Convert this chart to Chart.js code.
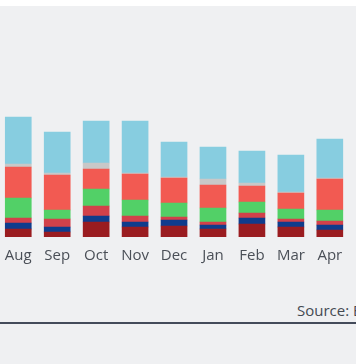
<!DOCTYPE html>
<html>
<head>
<meta charset="utf-8">
<script src="https://cdn.jsdelivr.net/npm/chart.js@4.4.0/dist/chart.umd.min.js"></script>
<style>
  html, body { margin: 0; padding: 0; width: 356px; height: 364px; overflow: hidden; background: #eff0f2; font-family: "Open Sans", sans-serif; }
  #top { position: absolute; left: 0; top: 0; width: 356px; height: 6px; background: #ffffff; }
  #wrap { position: absolute; left: -5px; top: 0; width: 357px; height: 277px; }
  #source { position: absolute; left: 297px; top: 300px; font-size: 15px; color: #444a52; white-space: nowrap; }
  #rule { position: absolute; left: 0; top: 322px; width: 356px; height: 2px; background: #444b5a; }
</style>
</head>
<body>
<div id="top"></div>
<div id="wrap"><canvas id="c"></canvas></div>
<div id="source">Source: EIA</div>
<div id="rule"></div>
<script>
const months = ["Aug", "Sep", "Oct", "Nov", "Dec", "Jan", "Feb", "Mar", "Apr"];
const seriesDarkRed = [8, 5, 15, 10, 11, 8, 13, 10, 7];
const seriesBlue    = [6, 5, 6, 5, 6, 4, 6, 5, 5];
const seriesCrimson = [5, 8, 10, 6, 3, 3, 5, 3, 4];
const seriesGreen   = [20, 9, 17, 16, 14, 14, 11, 10, 11];
const seriesCoral   = [31, 35, 20, 26, 25, 23, 16, 16, 31];
const seriesGray    = [3, 2, 6, 1, 1, 6, 3, 1, 1];
const seriesLight   = [47, 41, 42, 52, 35, 32, 32, 37, 39];

const mk = (label, data, color) => ({ label, data, backgroundColor: color, borderWidth: 0, barThickness: 26 });

new Chart(document.getElementById('c'), {
  type: 'bar',
  data: {
    labels: months,
    datasets: [
      mk('Series 1', seriesDarkRed, '#9a1c20'),
      mk('Series 2', seriesBlue, '#0f3c8c'),
      mk('Series 3', seriesCrimson, '#d2414a'),
      mk('Series 4', seriesGreen, '#52d067'),
      mk('Series 5', seriesCoral, '#f25a52'),
      mk('Series 6', seriesGray, '#c8c8c8'),
      mk('Series 7', seriesLight, '#87cde0')
    ]
  },
  options: {
    responsive: true,
    maintainAspectRatio: false,
    animation: false,
    layout: { padding: 0 },
    plugins: { legend: { display: false }, tooltip: { enabled: false } },
    scales: {
      x: {
        stacked: true,
        grid: { display: false, drawTicks: false },
        border: { display: false },
        ticks: { color: '#4a4f57', font: { family: 'Open Sans', size: 15 }, padding: 10, maxRotation: 0, autoSkip: false },
        afterFit: (axis) => { axis.height = 40; }
      },
      y: {
        stacked: true,
        display: false,
        min: 0,
        max: 237
      }
    }
  }
});
</script>
</body>
</html>
